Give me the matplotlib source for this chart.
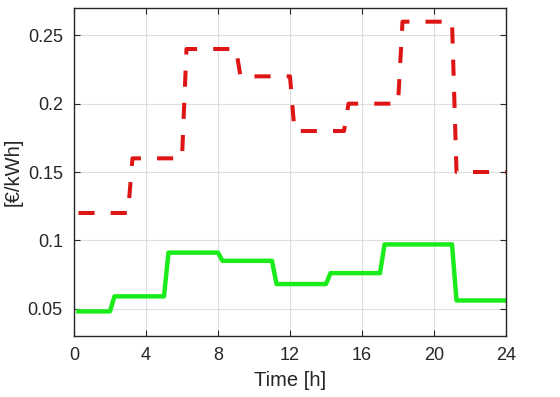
import matplotlib
matplotlib.use("Agg")
import matplotlib.pyplot as plt

plt.rcParams['font.family'] = ['Liberation Sans', 'DejaVu Sans']

# Red dashed series (corner points)
red_t = [0.25, 3, 3.25, 6, 6.25, 9, 9.25, 12, 12.25, 15, 15.25, 18, 18.25, 21, 21.25, 24]
red_v = [0.12, 0.12, 0.16, 0.16, 0.24, 0.24, 0.22, 0.22, 0.18, 0.18, 0.20, 0.20, 0.26, 0.26, 0.15, 0.15]

# Green solid series (corner points)
green_t = [0.25, 2, 2.25, 5, 5.25, 8, 8.25, 11, 11.25, 14, 14.25, 17, 17.25, 21, 21.25, 24]
green_v = [0.048, 0.048, 0.059, 0.059, 0.091, 0.091, 0.085, 0.085, 0.068, 0.068,
           0.076, 0.076, 0.097, 0.097, 0.056, 0.056]

xticks = [0, 4, 8, 12, 16, 20, 24]
yticks = [0.05, 0.1, 0.15, 0.2, 0.25]
ytick_labels = ['0.05', '0.1', '0.15', '0.2', '0.25']

fig = plt.figure(figsize=(5.6, 3.97), dpi=100)
ax = fig.add_axes([0.1321, 0.1537, 0.9036 - 0.1321, 0.9798 - 0.1537])

ax.plot(red_t, red_v, color='#dd1515', linewidth=2.9, linestyle=(0, (4.0, 4.0)),
        dash_capstyle='butt', solid_joinstyle='miter')
ax.plot(green_t, green_v, color='#1aeb1a', linewidth=3.2, solid_joinstyle='round')

ax.set_xlim(0, 24)
ax.set_ylim(0.03, 0.27)
ax.set_xticks(xticks)
ax.set_yticks(yticks)
ax.set_yticklabels(ytick_labels)

ax.grid(True, color='#dedede', linewidth=0.8)
ax.set_axisbelow(True)
ax.tick_params(direction='in', top=True, right=True, labelsize=13, colors='#262626',
               length=4, width=0.8, pad=8)
for s in ax.spines.values():
    s.set_color('#262626')
    s.set_linewidth(1.0)

ax.set_xlabel('Time [h]', fontsize=14.5, color='#262626', labelpad=5)
ax.set_ylabel('[€/kWh]', fontsize=14.5, color='#262626', labelpad=4)

fig.savefig('out.png', dpi=100)
